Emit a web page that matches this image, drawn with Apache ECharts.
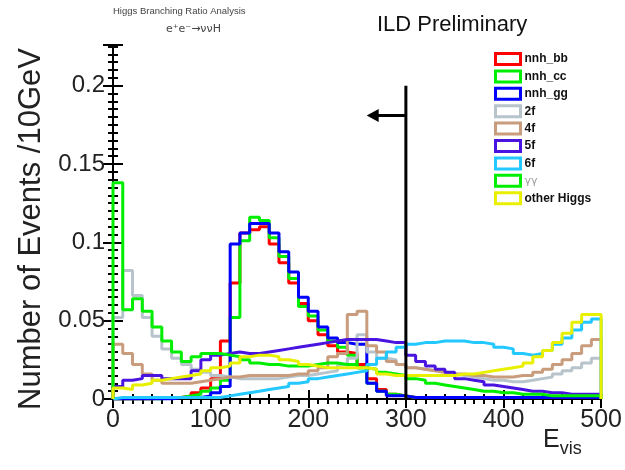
<!DOCTYPE html>
<html>
<head>
<meta charset="utf-8">
<script src="https://cdn.jsdelivr.net/npm/echarts@6/dist/echarts.min.js"></script>
<style>html,body{margin:0;padding:0;background:#fff;}#c{width:625px;height:470px;}</style>
</head>
<body>
<div id="c"></div>
<script>
// ---- data (bin width 10 GeV, 0..500 GeV, 50 bins) ----
const binWidth = 10;
const xMin = 0, xMax = 500;
const yMin = 0, yMax = 0.226;
const xTickInterval = 100;
const yTickInterval = 0.05;

const seriesNames = ['nnh_bb', 'nnh_cc', 'nnh_gg', '2f', '4f', '5f', '6f', 'γγ', 'other Higgs'];
const seriesColors = ['#ff0000', '#00ee00', '#0000ff', '#b8c4cc', '#c89c7c', '#4a14e0', '#22c8ff', '#00ee00', '#e8f000'];

const nnh_bb = [0.000,0.000,0.000,0.000,0.001,0.001,0.001,0.002,0.004,0.007,
                0.013,0.037,0.074,0.106,0.108,0.110,0.099,0.087,0.074,0.061,
                0.050,0.041,0.034,0.030,0.029,0.022,0.013,0.006,0.003,0.002,
                0.001,0.001,0.001,0.001,0.001,0.001,0.001,0.001,0.001,0.001,
                0.001,0.001,0.001,0.001,0.001,0.001,0.001,0.001,0.001,0.001];
const nnh_cc = [0.000,0.000,0.000,0.000,0.000,0.001,0.001,0.002,0.003,0.005,
                0.007,0.012,0.052,0.101,0.116,0.114,0.103,0.091,0.077,0.059,
                0.053,0.044,0.037,0.033,0.028,0.020,0.010,0.005,0.003,0.002,
                0.001,0.001,0.001,0.001,0.001,0.001,0.001,0.001,0.001,0.001,
                0.001,0.001,0.001,0.001,0.001,0.001,0.001,0.001,0.001,0.001];
const nnh_gg = [0.000,0.000,0.000,0.000,0.000,0.000,0.001,0.001,0.001,0.002,
                0.004,0.008,0.099,0.106,0.112,0.112,0.106,0.094,0.081,0.065,
                0.056,0.046,0.039,0.036,0.035,0.035,0.010,0.005,0.002,0.002,
                0.001,0.001,0.001,0.001,0.001,0.001,0.001,0.001,0.001,0.001,
                0.001,0.001,0.001,0.001,0.001,0.001,0.001,0.001,0.001,0.001];
const bkg_2f = [0.052,0.082,0.066,0.052,0.040,0.032,0.026,0.022,0.019,0.017,
                0.015,0.014,0.013,0.013,0.013,0.013,0.013,0.014,0.015,0.015,
                0.016,0.017,0.018,0.022,0.026,0.041,0.030,0.026,0.025,0.022,
                0.020,0.019,0.018,0.017,0.016,0.015,0.014,0.013,0.012,0.012,
                0.011,0.011,0.012,0.013,0.014,0.016,0.018,0.020,0.023,0.026];
const bkg_4f = [0.035,0.029,0.022,0.016,0.012,0.010,0.010,0.010,0.011,0.012,
                0.013,0.014,0.014,0.015,0.015,0.015,0.015,0.015,0.016,0.016,
                0.018,0.020,0.027,0.029,0.054,0.056,0.034,0.030,0.024,0.022,
                0.020,0.019,0.018,0.017,0.016,0.016,0.015,0.015,0.014,0.014,
                0.014,0.015,0.015,0.017,0.019,0.022,0.025,0.029,0.034,0.038];
const bkg_5f = [0.008,0.012,0.013,0.015,0.015,0.013,0.013,0.013,0.018,0.025,
                0.028,0.029,0.030,0.029,0.029,0.030,0.031,0.032,0.033,0.034,
                0.035,0.036,0.037,0.038,0.038,0.038,0.038,0.037,0.036,0.036,
                0.028,0.024,0.021,0.019,0.017,0.013,0.012,0.011,0.009,0.008,
                0.007,0.006,0.005,0.005,0.004,0.004,0.003,0.003,0.003,0.003];
const bkg_6f = [0.001,0.001,0.001,0.001,0.001,0.001,0.001,0.001,0.001,0.001,
                0.001,0.002,0.003,0.004,0.005,0.006,0.007,0.008,0.010,0.011,
                0.013,0.014,0.015,0.016,0.017,0.018,0.022,0.026,0.030,0.033,
                0.035,0.036,0.036,0.037,0.037,0.037,0.036,0.036,0.035,0.033,
                0.032,0.029,0.028,0.029,0.031,0.035,0.039,0.044,0.049,0.051];
const bkg_aa = [0.138,0.057,0.064,0.056,0.046,0.037,0.030,0.024,0.027,0.029,
                0.029,0.028,0.027,0.025,0.023,0.022,0.022,0.021,0.021,0.021,
                0.022,0.023,0.023,0.022,0.022,0.020,0.019,0.017,0.016,0.015,
                0.013,0.012,0.010,0.009,0.008,0.007,0.006,0.005,0.005,0.004,
                0.004,0.003,0.003,0.003,0.002,0.002,0.002,0.002,0.002,0.002];
const otherHiggs = [0.007,0.006,0.009,0.010,0.012,0.013,0.014,0.015,0.016,0.018,
                0.020,0.021,0.023,0.027,0.028,0.028,0.027,0.025,0.024,0.022,
                0.021,0.020,0.020,0.020,0.020,0.020,0.019,0.016,0.015,0.015,
                0.015,0.015,0.015,0.015,0.015,0.016,0.016,0.017,0.018,0.019,
                0.020,0.021,0.023,0.027,0.031,0.036,0.042,0.049,0.054,0.054];

const allValues = [nnh_bb, nnh_cc, nnh_gg, bkg_2f, bkg_4f, bkg_5f, bkg_6f, bkg_aa, otherHiggs];

// cut annotation
const cutValue = 300;
const cutTop = 0.2;
const arrowY = 0.181;
const arrowTip = 266;

// ---- build ----
function histPoints(vals) {
  const pts = [[xMin, 0]];
  vals.forEach((v, i) => pts.push([xMin + i * binWidth, v]));
  pts.push([xMin + vals.length * binWidth, vals[vals.length - 1]]);
  pts.push([xMin + vals.length * binWidth, 0]);
  return pts;
}

const FONT = 'Liberation Sans, Arial, Helvetica, sans-serif';

const series = allValues.map((vals, i) => ({
  name: seriesNames[i],
  type: 'line',
  step: 'end',
  data: histPoints(vals),
  showSymbol: false,
  symbol: 'none',
  animation: false,
  silent: true,
  color: seriesColors[i],
  lineStyle: { color: seriesColors[i], width: 3 },
  z: 2 + i
}));

series.push({
  name: 'cut',
  type: 'line',
  data: [[cutValue, 0], [cutValue, cutTop]],
  showSymbol: false,
  symbol: 'none',
  animation: false,
  silent: true,
  lineStyle: { color: '#000', width: 3 },
  z: 20,
  markLine: {
    silent: true,
    animation: false,
    symbol: ['none', 'triangle'],
    symbolSize: [13, 12],
    label: { show: false },
    lineStyle: { color: '#000', width: 3, type: 'solid' },
    data: [[{ coord: [cutValue, arrowY] }, { coord: [arrowTip, arrowY] }]]
  }
});

const legendData = seriesNames.map((n, i) => ({
  name: n,
  icon: 'rect',
  itemStyle: { color: '#fff', borderColor: seriesColors[i], borderWidth: 3 },
  textStyle: n === 'γγ' ? { color: '#999', fontWeight: 'normal', fontFamily: 'DejaVu Sans', fontSize: 11, lineHeight: 12 } : undefined
}));

const chart = echarts.init(document.getElementById('c'), null, { renderer: 'canvas' });
chart.setOption({
  animation: false,
  backgroundColor: '#fff',
  grid: { left: 113, right: 23, top: 45, bottom: 71, containLabel: false },
  legend: {
    data: legendData,
    orient: 'vertical',
    left: 494,
    top: 52,
    itemWidth: 25,
    itemHeight: 11,
    itemGap: 3.4,
    padding: 0,
    textStyle: { fontFamily: FONT, fontSize: 12, lineHeight: 12, fontWeight: 'bold', color: '#111', padding: [0, 0, 0, -1] },
    selectedMode: false
  },
  xAxis: [{
    type: 'value', min: xMin, max: xMax, interval: xTickInterval,
    axisLine: { show: true, lineStyle: { color: '#000', width: 2 } },
    axisTick: { show: true, inside: true, length: 9, lineStyle: { color: '#000', width: 2 } },
    minorTick: { show: true, splitNumber: 5, length: 5, lineStyle: { color: '#000', width: 2 } },
    axisLabel: { show: true, margin: 9, fontSize: 25, color: '#222', fontFamily: FONT },
    splitLine: { show: false }
  }, {
    type: 'value', position: 'top', min: xMin, max: xMax, interval: xTickInterval,
    axisLine: { show: true, lineStyle: { color: '#000', width: 2 } },
    axisTick: { show: true, inside: true, length: 9, lineStyle: { color: '#000', width: 2 } },
    minorTick: { show: true, splitNumber: 10, length: 5, lineStyle: { color: '#000', width: 2 } },
    axisLabel: { show: false },
    splitLine: { show: false }
  }],
  yAxis: [{
    type: 'value', min: yMin, max: yMax, interval: yTickInterval,
    axisLine: { show: true, lineStyle: { color: '#000', width: 2 } },
    axisTick: { show: true, inside: true, length: 10, lineStyle: { color: '#000', width: 2 } },
    minorTick: { show: true, splitNumber: 10, length: 5, lineStyle: { color: '#000', width: 2 } },
    axisLabel: { show: true, margin: 8, fontSize: 24, color: '#222', fontFamily: FONT, showMaxLabel: false },
    splitLine: { show: false },
    name: 'Number of Events /10GeV',
    nameLocation: 'middle',
    nameRotate: 90,
    nameGap: 56,
    nameTextStyle: { fontSize: 31, color: '#222', fontFamily: FONT, padding: [0, 14, 0, 0] }
  }, {
    type: 'value', position: 'right', min: yMin, max: yMax, interval: yTickInterval,
    axisLine: { show: true, lineStyle: { color: '#000', width: 2 } },
    axisTick: { show: true, inside: true, length: 10, lineStyle: { color: '#000', width: 2 } },
    minorTick: { show: true, splitNumber: 10, length: 5, lineStyle: { color: '#000', width: 2 } },
    axisLabel: { show: false },
    splitLine: { show: false }
  }],
  graphic: [
    { type: 'text', left: 113, top: 6, style: { text: 'Higgs Branching Ratio Analysis', fontSize: 9.5, fontFamily: FONT, fill: '#444' } },
    { type: 'text', left: 166, top: 24, style: { text: 'e⁺e⁻→ννH', fontSize: 11, fontFamily: 'DejaVu Sans', fill: '#444' } },
    { type: 'text', left: 377, top: 14, style: { text: 'ILD Preliminary', fontSize: 22, fontFamily: FONT, fill: '#111' } },
    { type: 'text', left: 543, top: 428, style: {
        rich: { e: { fontSize: 25, fontFamily: FONT, fill: '#222' }, s: { fontSize: 18, fontFamily: FONT, fill: '#222', padding: [18, 0, 0, 0] } },
        text: '{e|E}{s|vis}' } }
  ],
  series: series
});
</script>
</body>
</html>
